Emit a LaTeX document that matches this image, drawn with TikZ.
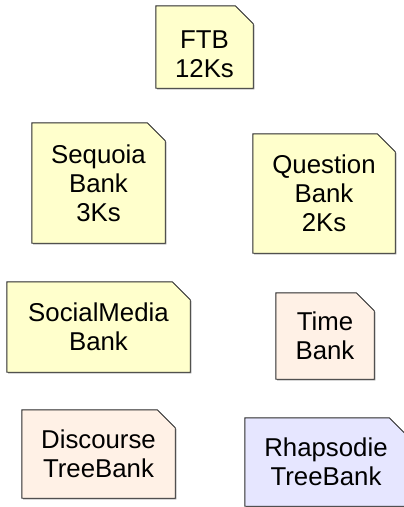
\documentclass[tikz,border=0pt]{standalone}
\usepackage{fontspec}
\setmainfont{Liberation Sans}
\usetikzlibrary{backgrounds}
\definecolor{docyellow}{HTML}{FFFFCC}
\definecolor{docpeach}{HTML}{FFF1E6}
\definecolor{doclilac}{HTML}{E6E6FF}
\definecolor{docline}{HTML}{2A2A2A}
\tikzset{
  x=1pt, y=1pt,
  doctext/.style={align=center, inner sep=0pt, font=\fontsize{25.8}{29}\selectfont},
}
% folded-corner document outline behind a named node
\newcommand\docoutline[2]{%
  \begin{pgfonlayer}{background}
    \fill[black!45] ([shift={(1.2,-1.2)}]#1.south west) -- ([shift={(1.2,-1.2)}]#1.north west)
      -- ([shift={(-16.8,-1.2)}]#1.north east) -- ([shift={(1.2,-19.2)}]#1.north east)
      -- ([shift={(1.2,-1.2)}]#1.south east) -- cycle;
    \filldraw[fill=#2, draw=docline, line width=0.9pt] (#1.south west) -- (#1.north west)
      -- ([xshift=-18]#1.north east) -- ([yshift=-18]#1.north east)
      -- (#1.south east) -- cycle;
  \end{pgfonlayer}}
\begin{document}
\begin{tikzpicture}
\useasboundingbox (0,0) rectangle (404,-507);
\node[doctext, minimum width=97, minimum height=82] (ftb) at (204.5,-47) {\rule{0pt}{32pt}FTB\\12Ks};
\node[doctext, minimum width=133, minimum height=120] (seq) at (98.5,-183) {Sequoia\\Bank\\3Ks};
\node[doctext, minimum width=142, minimum height=119] (que) at (324,-193.5) {Question\\Bank\\2Ks};
\node[doctext, minimum width=183, minimum height=90] (soc) at (98.5,-327) {SocialMedia\\Bank};
\node[doctext, minimum width=98, minimum height=86] (tim) at (325,-336) {Time\\Bank};
\node[doctext, minimum width=153, minimum height=88] (dis) at (98.5,-454) {Discourse\\TreeBank};
\node[doctext, minimum width=162, minimum height=88] (rha) at (326,-462) {Rhapsodie\\TreeBank};
\docoutline{ftb}{docyellow}
\docoutline{seq}{docyellow}
\docoutline{que}{docyellow}
\docoutline{soc}{docyellow}
\docoutline{tim}{docpeach}
\docoutline{dis}{docpeach}
\docoutline{rha}{doclilac}
\end{tikzpicture}
\end{document}
